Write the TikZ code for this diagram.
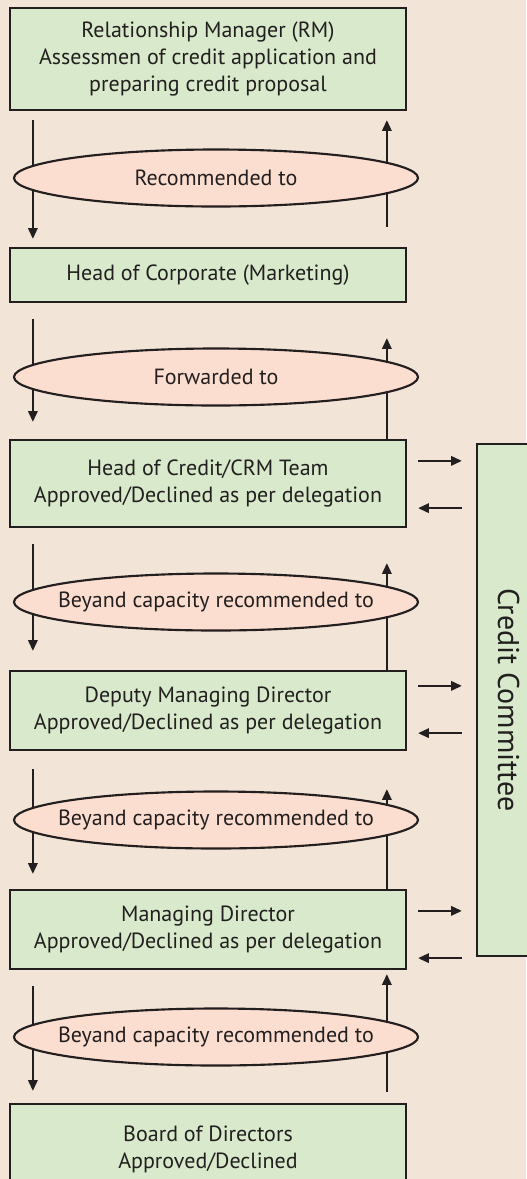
\documentclass[tikz,border=0pt]{standalone}
\usepackage{fontspec}
\setmainfont{PT Sans}
\usepackage{tikz}
\usetikzlibrary{arrows.meta, positioning, shapes.geometric, calc}
\definecolor{PaperBg}{RGB}{242, 228, 215}
\definecolor{BoxGreen}{RGB}{216, 234, 203}
\definecolor{OvalPink}{RGB}{252, 222, 208}
\definecolor{InkDark}{RGB}{35, 31, 32}

\tikzset{
  stagebox/.style={draw=InkDark, line width=1.7pt, fill=BoxGreen, text=InkDark,
    minimum width=297pt, align=center, inner sep=0pt},
  passoval/.style={ellipse, draw=InkDark, line width=1.6pt, fill=OvalPink,
    minimum width=303pt, minimum height=42.75pt, inner sep=0pt},
  ovaltext/.style={text=InkDark, inner sep=0pt},
  flow/.style={-{Triangle[length=8pt, width=7pt]}, line width=1.5pt, draw=InkDark},
}

\begin{document}
\begin{tikzpicture}[x=0.75pt, y=-0.75pt, font=\fontsize{16.5}{20.25}\selectfont]
\fill[PaperBg] (0,0) rectangle (526,1179);
\useasboundingbox (0,0) rectangle (526,1179);

\node[stagebox, minimum height=76.5pt] (rm) at (208,59)
  {Relationship Manager (RM)\\Assessmen of credit application and\\preparing credit proposal};
\node[stagebox, minimum height=40.5pt] (hoc) at (208,275) {Head of Corporate (Marketing)};
\node[stagebox, minimum height=65.25pt] (crm) at (208,483.5)
  {Head of Credit/CRM Team\\Approved/Declined as per delegation};
\node[stagebox, minimum height=59.25pt] (dmd) at (208,710.5)
  {Deputy Managing Director\\Approved/Declined as per delegation};
\node[stagebox, minimum height=59.25pt] (md) at (208,929.5)
  {Managing Director\\Approved/Declined as per delegation};
\node[stagebox, minimum height=67.5pt] (bod) at (208,1149) {Board of Directors\\Approved/Declined};
\node[stagebox, rotate=-90, minimum width=384pt, minimum height=47.25pt,
  font=\fontsize{22.5}{27}\selectfont] (cc) at (508.5,700) {Credit Committee};

\foreach \up/\lo/\da/\db/\ua/\ub in {rm/hoc/9/8/20/9, hoc/crm/16/17/0/35, crm/dmd/16/19/0/35,
    dmd/md/18/15/0/38, md/bod/16/12/11/4} {
  \draw[flow] ($(\up.south west)+(24,\da)$) -- ($(\lo.north west)+(24,-\db)$);
  \draw[flow] ($(\lo.north west)+(378,-\ua)$) -- ($(\up.south west)+(378,\ub)$);
}

\foreach \bx/\ru/\rl in {crm/22/20, dmd/16/18, md/22/12} {
  \draw[flow] ($(\bx.north east)+(11,\ru)$) -- ($(\bx.north east -| cc.south)+(-14,\ru)$);
  \draw[flow] ($(\bx.south east -| cc.south)+(-14,-\rl)$) -- ($(\bx.south east)+(11,-\rl)$);
}

\foreach \n/\y/\t in {ov1/178/Recommended to, ov2/377/Forwarded to,
    ov3/602/Beyand capacity recommended to, ov4/820/Beyand capacity recommended to,
    ov5/1037/Beyand capacity recommended to}
  \node[passoval, label={[ovaltext]center:\t}] (\n) at (216,\y) {};
\end{tikzpicture}
\end{document}
